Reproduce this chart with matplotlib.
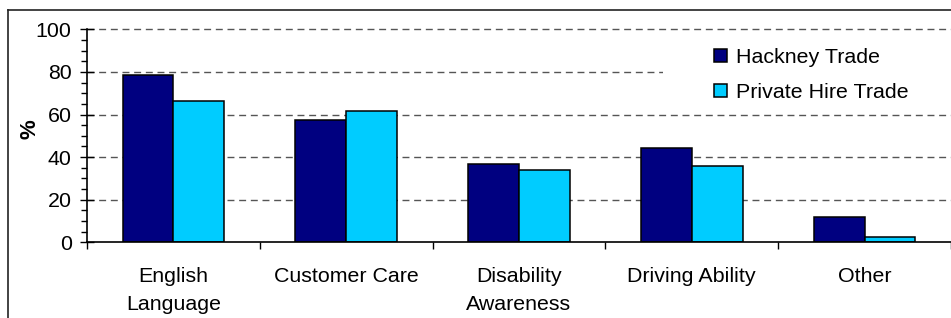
import matplotlib
matplotlib.use('Agg')
import matplotlib.pyplot as plt
import numpy as np
from matplotlib.patches import Rectangle
from matplotlib.lines import Line2D

plt.rcParams['font.family'] = ['Liberation Sans', 'DejaVu Sans']

categories = ['English\nLanguage', 'Customer Care', 'Disability\nAwareness',
              'Driving Ability', 'Other']
hackney = [78.4, 57.6, 36.9, 44.1, 12.0]
private_hire = [66.5, 61.5, 33.8, 36.0, 2.3]
series_names = ['Hackney Trade', 'Private Hire Trade']
colors = ['#000080', '#00CCFF']

W, H = 951, 318
fs = 15.4
fig = plt.figure(figsize=(W / 100, H / 100), dpi=100)
ax = fig.add_axes([87 / W, 1 - 242.3 / H, (951 - 87) / W, (242.3 - 29.3) / H])

x = np.arange(len(categories))
bw = 1 / 3.4
ax.bar(x - bw / 2, hackney, bw, color=colors[0], edgecolor='black',
       linewidth=1.1, label=series_names[0], zorder=3)
ax.bar(x + bw / 2, private_hire, bw, color=colors[1], edgecolor='black',
       linewidth=1.1, label=series_names[1], zorder=3)

ax.set_xlim(-0.5, len(categories) - 0.5)
ax.set_ylim(0, 100)

# dashed gridlines
for yv in [20, 40, 60, 80, 100]:
    ax.axhline(yv, color='#555555', lw=1.0, dashes=(5, 3.4), zorder=1,
               clip_on=False)

# white box behind legend hides part of the grid
ax.add_patch(Rectangle((2.834, 64), 2.0, 33, facecolor='white',
                       edgecolor='none', zorder=2))

ax.set_yticks(np.arange(0, 101, 20))
ax.set_yticks(np.arange(0, 101, 5), minor=True)
ax.tick_params(axis='y', which='major', direction='inout', length=10,
               width=1, pad=6, labelsize=fs)
ax.tick_params(axis='y', which='minor', direction='out', length=4, width=1)

ax.set_xticks(x)
ax.set_xticklabels(categories, linespacing=1.6)
ax.set_xticks(np.arange(-0.5, len(categories), 1.0), minor=True)
ax.tick_params(axis='x', which='major', length=0, pad=17.5, labelsize=fs)
ax.tick_params(axis='x', which='minor', direction='out', length=5, width=1)

for s in ['top', 'right']:
    ax.spines[s].set_visible(False)
for s in ['left', 'bottom']:
    ax.spines[s].set_linewidth(1.2)
    ax.spines[s].set_zorder(4)

ax.set_ylabel('%', fontsize=16, fontweight='bold')
ax.yaxis.set_label_coords(-0.054, 0.53)

ax.legend(loc='upper left', bbox_to_anchor=(714 / W, 1 - 48 / H),
          bbox_transform=fig.transFigure, frameon=False, fontsize=fs,
          handlelength=0.62, handleheight=0.62, handletextpad=0.42,
          labelspacing=0.75, borderpad=0, borderaxespad=0)

# outer chart border (cut off at right and bottom)
fig.add_artist(Line2D([8 / W, 8 / W], [0, 1 - 10 / H], color='#222222',
                      lw=1.2, transform=fig.transFigure))
fig.add_artist(Line2D([8 / W, 1], [1 - 10 / H, 1 - 10 / H], color='#222222',
                      lw=1.2, transform=fig.transFigure))

fig.savefig('out.png', dpi=100)
